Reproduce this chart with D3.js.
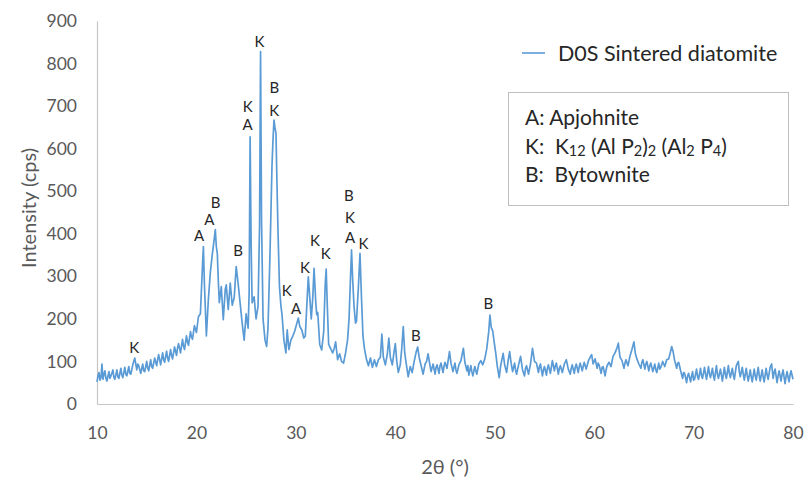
<!DOCTYPE html>
<html><head><meta charset="utf-8">
<script src="https://cdn.jsdelivr.net/npm/d3@7/dist/d3.min.js"></script>
<style>
body{margin:0;background:#fff;}
svg{display:block;font-family:Lato,"Open Sans",sans-serif;}
</style></head>
<body><svg id="chart" width="806" height="480"></svg>
<script>
// ---- data ----
const seriesName = "D0S Sintered diatomite";
const xTicks = [10,20,30,40,50,60,70,80];
const yTicks = [0,100,200,300,400,500,600,700,800,900];
// [2θ (°), intensity (cps)]
const scan = [
[10.0,52],[10.1,66],[10.2,74],[10.3,56],[10.4,62],[10.5,94],[10.6,58],[10.7,70],[10.8,78],[10.9,60],[11.0,54],[11.2,76],[11.3,60],[11.4,66],[11.6,80],[11.7,62],[11.8,58],
[12.0,80],[12.1,64],[12.2,60],[12.4,84],[12.5,68],[12.6,62],[12.8,86],[12.9,70],[13.0,66],[13.2,88],[13.3,72],[13.4,70],[13.6,92],[13.8,108],
[14.0,80],[14.1,94],[14.2,90],[14.4,72],[14.6,94],[14.7,78],[14.8,76],[15.0,100],[15.1,84],[15.2,78],[15.4,104],[15.5,88],[15.6,84],[15.8,108],
[16.0,90],[16.1,104],[16.2,116],[16.4,92],[16.6,120],[16.7,104],[16.8,98],[17.0,124],[17.1,108],[17.2,100],[17.4,128],[17.5,114],[17.6,106],[17.8,134],
[18.0,114],[18.1,132],[18.2,142],[18.4,120],[18.6,152],[18.7,136],[18.8,128],[19.0,160],[19.1,146],[19.2,138],[19.4,170],[19.5,158],[19.6,152],[19.8,184],
[20.0,168],[20.2,205],[20.4,212],[20.6,320],[20.7,370],[20.8,285],[21.0,160],[21.2,245],[21.4,310],[21.6,352],[21.8,390],[21.9,410],
[22.0,370],[22.1,354],[22.2,290],[22.3,238],[22.5,276],[22.7,198],[22.9,270],[23.0,280],[23.2,222],[23.4,284],[23.6,232],[23.8,250],
[24.0,323],[24.2,282],[24.4,236],[24.6,190],[24.8,150],[25.0,212],[25.2,178],[25.3,260],[25.4,628],[25.5,380],[25.6,238],[25.8,252],
[26.0,200],[26.2,230],[26.35,420],[26.45,828],[26.55,430],[26.7,200],[26.9,150],[27.06,135],[27.2,180],[27.4,354],[27.6,560],[27.7,620],[27.8,667],[27.9,650],
[28.0,636],[28.1,520],[28.2,410],[28.35,276],[28.5,230],[28.6,212],[28.8,150],[29.0,120],[29.13,174],[29.3,128],[29.5,150],[29.7,160],[29.9,172],
[30.1,190],[30.25,202],[30.4,182],[30.6,174],[30.8,155],[30.95,160],[31.1,230],[31.25,299],[31.4,250],[31.55,200],[31.7,250],[31.83,319],
[32.0,240],[32.1,210],[32.2,215],[32.4,140],[32.6,127],[32.8,170],[32.95,280],[33.05,317],[33.15,240],[33.3,140],[33.5,130],[33.7,120],[33.85,130],
[34.0,146],[34.2,104],[34.4,118],[34.6,100],[34.8,96],[35.0,120],[35.2,150],[35.35,200],[35.5,300],[35.6,362],[35.7,300],[35.85,230],
[36.0,190],[36.1,195],[36.3,280],[36.45,354],[36.6,250],[36.75,160],[36.9,130],[37.1,105],[37.3,90],[37.5,108],[37.7,86],[37.9,104],
[38.1,88],[38.3,104],[38.5,110],[38.65,164],[38.8,110],[39.0,92],[39.2,118],[39.35,155],[39.5,110],[39.7,92],[39.85,118],
[40.0,142],[40.15,100],[40.3,74],[40.5,92],[40.65,130],[40.8,182],[40.95,120],[41.1,95],[41.3,64],[41.5,88],[41.7,74],[41.9,100],
[42.1,122],[42.25,134],[42.4,110],[42.6,90],[42.8,70],[43.0,94],[43.15,100],[43.3,118],[43.45,96],[43.6,76],[43.8,94],
[44.0,70],[44.1,86],[44.2,92],[44.4,72],[44.5,90],[44.6,96],[44.8,74],[44.9,88],[45.0,98],[45.2,84],[45.45,123],[45.6,96],[45.8,76],
[46.0,96],[46.1,80],[46.2,72],[46.4,92],[46.6,102],[46.85,131],[47.0,98],[47.2,78],[47.3,90],[47.4,68],[47.6,90],[47.7,76],[47.8,66],
[48.0,88],[48.1,78],[48.2,70],[48.4,94],[48.6,102],[48.8,92],[49.0,106],[49.2,130],[49.4,170],[49.52,209],[49.65,180],[49.8,172],[49.95,145],
[50.1,120],[50.25,90],[50.45,62],[50.6,90],[50.85,119],[51.0,92],[51.2,74],[51.35,102],[51.5,123],[51.65,96],[51.8,76],
[52.0,96],[52.1,80],[52.2,70],[52.4,92],[52.6,112],[52.8,80],[53.0,66],[53.1,84],[53.2,90],[53.4,70],[53.6,94],[53.8,131],
[54.0,100],[54.2,96],[54.4,74],[54.5,88],[54.6,94],[54.8,66],[54.9,80],[55.0,88],[55.2,68],[55.3,84],[55.4,92],[55.6,72],[55.8,102],
[56.0,78],[56.1,90],[56.2,96],[56.4,70],[56.5,84],[56.6,90],[56.8,74],[57.0,94],[57.2,104],[57.4,82],[57.6,70],[57.7,84],[57.8,92],
[58.0,72],[58.1,86],[58.2,94],[58.4,74],[58.5,88],[58.6,96],[58.8,78],[59.0,98],[59.2,82],[59.4,100],[59.6,110],[59.75,116],[59.9,94],
[60.1,106],[60.3,84],[60.4,96],[60.5,92],[60.7,72],[60.8,86],[60.9,88],[61.1,66],[61.2,80],[61.3,90],[61.5,98],[61.7,88],[61.9,112],
[62.1,120],[62.3,132],[62.43,143],[62.6,110],[62.8,102],[63.0,84],[63.1,96],[63.2,104],[63.4,90],[63.6,112],[63.8,128],
[64.0,146],[64.15,118],[64.3,106],[64.5,94],[64.7,84],[64.8,98],[64.9,104],[65.1,82],[65.2,94],[65.3,100],[65.5,78],[65.6,90],[65.7,96],[65.9,76],
[66.1,94],[66.2,80],[66.3,74],[66.5,96],[66.6,82],[66.7,86],[66.9,100],[67.1,88],[67.3,104],[67.5,106],[67.65,120],[67.8,135],[67.95,122],
[68.1,102],[68.3,84],[68.4,96],[68.5,98],[68.7,78],[68.9,60],[69.0,74],[69.1,72],[69.3,50],[69.4,66],[69.5,72],[69.7,52],[69.8,66],[69.9,76],
[70.0,56],[70.1,58],[70.3,82],[70.4,64],[70.5,58],[70.7,84],[70.8,66],[70.9,60],[71.1,86],[71.2,70],[71.3,58],[71.5,88],[71.6,70],[71.7,62],[71.9,84],
[72.0,66],[72.1,56],[72.3,90],[72.4,70],[72.5,60],[72.7,82],[72.8,68],[72.9,54],[73.1,86],[73.2,70],[73.3,60],[73.5,90],[73.6,72],[73.7,62],[73.9,84],
[74.0,68],[74.1,58],[74.3,90],[74.5,100],[74.6,76],[74.7,64],[74.9,86],[75.0,70],[75.1,56],[75.3,84],[75.4,66],[75.5,54],[75.7,80],[75.8,64],[75.9,52],
[76.1,82],[76.2,66],[76.3,56],[76.5,86],[76.6,68],[76.7,54],[76.9,80],[77.0,64],[77.1,52],[77.3,84],[77.4,68],[77.5,58],[77.7,86],[77.85,94],
[78.0,60],[78.1,74],[78.2,82],[78.4,50],[78.5,66],[78.6,78],[78.8,54],[78.9,70],[79.0,80],[79.2,48],[79.3,64],[79.4,76],[79.6,52],[79.7,68],[79.8,78],[80.0,58]
];
// phase letters: [letter, 2θ, intensity level of letter centre]
const peakLabels = [
["K",13.75,135],["A",20.26,397],["A",21.3,434],["B",21.93,475],["B",24.2,362],
["K",25.15,700],["A",25.15,658],["K",26.33,853],["B",27.83,746],["K",27.83,692],
["K",29.08,269],["A",30.01,225],["K",30.92,323],["K",31.93,385],["K",33.0,354],
["B",35.34,491],["K",35.45,439],["A",35.45,392],["K",36.79,379],["B",42.08,162],["B",49.36,238]
];
const phaseKey = ["A: Apjohnite","K: K12 (Al P2)2 (Al2 P4)","B: Bytownite"];

// ---- drawing ----
const svg = d3.select("#chart");
const x = d3.scaleLinear().domain([10,80]).range([97,793]);
const y = d3.scaleLinear().domain([0,900]).range([404,21]);
const axisColor = "#c6c6c6", tickColor = "#595959";

const gx = svg.append("g").attr("transform","translate(0,404)")
  .call(d3.axisBottom(x).tickValues(xTicks).tickSize(0).tickPadding(23).tickFormat(d3.format("d")));
const gy = svg.append("g").attr("transform","translate(97,0)")
  .call(d3.axisLeft(y).tickValues(yTicks).tickSize(0).tickPadding(20).tickFormat(d3.format("d")));
[gx,gy].forEach(g=>{
  g.select(".domain").attr("stroke",axisColor).attr("stroke-width",1.2);
  g.selectAll("text").attr("fill",tickColor).style("font-size","17.5px").style("font-family","Lato");
});

svg.append("path").datum(scan)
  .attr("fill","none").attr("stroke","#5b9bd5").attr("stroke-width",1.7).attr("stroke-linejoin","round")
  .attr("d", d3.line().x(d=>x(d[0])).y(d=>y(d[1])));

svg.append("g").selectAll("text").data(peakLabels).join("text")
  .attr("x",d=>x(d[1])).attr("y",d=>y(d[2])).attr("text-anchor","middle")
  .attr("dominant-baseline","central").attr("fill","#262626").style("font-size","15px")
  .text(d=>d[0]);

// axis titles
svg.append("text").attr("transform","translate(28,208) rotate(-90)").attr("text-anchor","middle")
  .attr("dominant-baseline","central").attr("fill",tickColor).style("font-size","20px").text("Intensity (cps)");
svg.append("text").attr("x",445).attr("y",466).attr("text-anchor","middle")
  .attr("dominant-baseline","central").attr("fill",tickColor).style("font-size","20px").text("2θ (°)");

// legend
svg.append("line").attr("x1",522).attr("x2",545).attr("y1",53).attr("y2",53)
  .attr("stroke","#5b9bd5").attr("stroke-width",1.6);
svg.append("text").attr("x",558).attr("y",53).attr("dominant-baseline","central")
  .attr("fill","#262626").style("font-size","21.5px").text(seriesName);

// phase key box
svg.append("rect").attr("x",508.5).attr("y",92.5).attr("width",280).attr("height",113)
  .attr("fill","#fff").attr("stroke","#bfbfbf").attr("stroke-width",1);
const keyY = [116,145,173];
function addKey(i, parts){
  const t = svg.append("text").attr("x",525).attr("y",keyY[i]).attr("dominant-baseline","central")
    .attr("fill","#262626").style("font-size","21px").style("white-space","pre");
  parts.forEach(p=>{
    const s = t.append("tspan").text(p[0]);
    if(p[1]) s.style("font-size","14.5px").attr("dy", p[1]==="sub" ? 5 : 0);
    if(p[2]) s.attr("dy", p[2]);
  });
}
addKey(0, [[phaseKey[0]]]);
addKey(1, [["K:  K"],["12","sub"],[" (Al P",0,-5],["2","sub"],[")",0,-5],["2","sub"],[" (Al",0,-5],["2","sub"],[" P",0,-5],["4","sub"],[")",0,-5]]);
addKey(2, [["B:  Bytownite"]]);
</script></body></html>
